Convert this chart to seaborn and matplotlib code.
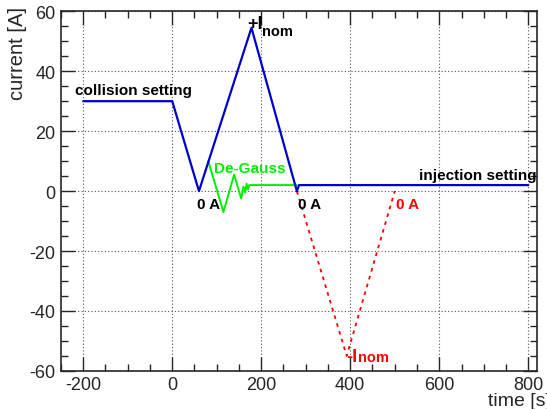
import pandas as pd
import matplotlib.pyplot as plt
from matplotlib.ticker import MultipleLocator
import seaborn as sns

# Data
main_t = [-200, 0, 60, 178, 280, 285, 800]
main_i = [30, 30, 0, 54.5, 0, 2, 2]

degauss_t = [81, 115, 139, 155, 160, 164, 167, 170, 173, 180, 280]
degauss_i = [10, -7, 5.5, -2.5, 1.5, -0.5, 2.5, 0.5, 2, 2, 2]

alt_t = [280, 392, 500]
alt_i = [0, -55, 0]

sns.set_style("ticks")
plt.rcParams['font.family'] = ['Liberation Sans', 'DejaVu Sans']
plt.rcParams['axes.unicode_minus'] = False

fig = plt.figure(figsize=(5.47, 4.10), dpi=100)
ax = fig.add_axes([0.1115, 0.093, 0.8705, 0.877])

main_df = pd.DataFrame({"t": main_t, "i": main_i})
dg_df = pd.DataFrame({"t": degauss_t, "i": degauss_i})
alt_df = pd.DataFrame({"t": alt_t, "i": alt_i})

sns.lineplot(data=alt_df, x="t", y="i", sort=False, color="red", lw=1.3,
             linestyle=(0, (2, 2.5)), ax=ax, zorder=2)
sns.lineplot(data=dg_df, x="t", y="i", sort=False, color="#00ee00", lw=1.4, ax=ax, zorder=3)
sns.lineplot(data=main_df, x="t", y="i", sort=False, color="#0000cc", lw=1.6, ax=ax, zorder=4)

ax.set_xlim(-250, 820)
ax.set_ylim(-60, 60)
ax.xaxis.set_major_locator(MultipleLocator(200))
ax.xaxis.set_minor_locator(MultipleLocator(50))
ax.yaxis.set_major_locator(MultipleLocator(20))
ax.yaxis.set_minor_locator(MultipleLocator(5))
ax.tick_params(which="both", direction="in", top=True, right=True, labelsize=13, width=1)
ax.tick_params(which="major", length=10, pad=4)
ax.tick_params(which="minor", length=5)
ax.grid(True, which="major", linestyle=(0, (1, 2)), color="#555555", lw=0.8)
for s in ax.spines.values():
    s.set_linewidth(1.2)

# axis titles placed like the original (right / top aligned)
ax.set_xlabel("")
ax.set_ylabel("")
fig.text(0.892, 0.0, "time [s]", fontsize=14, ha="left", va="bottom")
fig.text(0.015, 0.982, "current [A]", fontsize=14.5, rotation=90, ha="left", va="top")

bold = dict(fontsize=11, fontweight="bold")
ax.text(-218, 31.5, "collision setting", color="black", va="bottom", **bold)
ax.text(168, 54.3, "+I", color="black", va="baseline", fontsize=13, fontweight="bold")
ax.text(201, 52, "nom", color="black", va="baseline", fontsize=10.5, fontweight="bold")
ax.text(55, -2, "0 A", color="black", va="top", **bold)
ax.text(94, 5.5, "De-Gauss", color="#00ee00", va="bottom", **bold)
ax.text(283, -2, "0 A", color="black", va="top", **bold)
ax.text(503, -2, "0 A", color="red", va="top", **bold)
ax.text(818, 3, "injection setting", color="black", ha="right", va="bottom", **bold)
ax.text(392, -56.6, "-I", color="red", va="baseline", fontsize=13, fontweight="bold")
ax.text(417, -56.6, "nom", color="red", va="baseline", fontsize=10.5, fontweight="bold")

fig.savefig("out.png", dpi=100)
